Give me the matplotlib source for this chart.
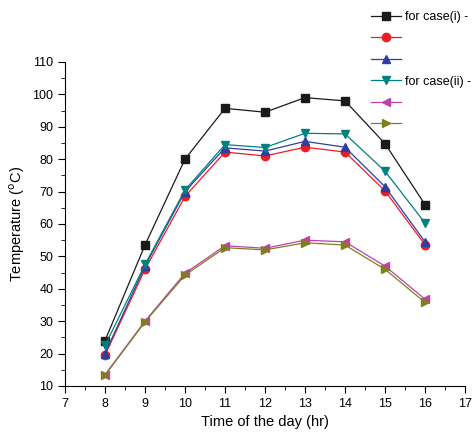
import matplotlib.pyplot as plt
from matplotlib.ticker import MultipleLocator

plt.rcParams['font.family'] = ['Liberation Sans', 'DejaVu Sans']

# Data
hours = [8, 9, 10, 11, 12, 13, 14, 15, 16]
case_i_a = [24.0, 53.5, 80.0, 95.7, 94.5, 99.0, 98.0, 84.8, 66.0]
case_i_b = [19.5, 46.0, 68.5, 82.2, 81.0, 83.7, 82.2, 70.2, 53.6]
case_i_c = [20.0, 47.0, 70.0, 83.5, 82.5, 85.5, 83.7, 71.5, 54.5]
case_ii_a = [22.5, 47.5, 70.5, 84.5, 83.6, 88.0, 87.8, 76.3, 60.3]
case_ii_b = [13.5, 30.0, 44.8, 53.3, 52.5, 55.0, 54.5, 47.0, 36.8]
case_ii_c = [13.3, 29.8, 44.2, 52.7, 52.0, 54.2, 53.5, 46.0, 35.8]

labels = ['for case(i) -', ' ', ' ', 'for case(ii) -', ' ', ' ']
series = [case_i_a, case_i_b, case_i_c, case_ii_a, case_ii_b, case_ii_c]
colors = ['#1a1a1a', '#ee1c25', '#2e3f9e', '#008080', '#c040a8', '#7f7f20']
markers = ['s', 'o', '^', 'v', '<', '>']

fig = plt.figure(figsize=(4.72, 4.32), dpi=100)
ax = fig.add_axes([0.1377, 0.1065, 0.8475, 0.75])

for vals, lab, c, m in zip(series, labels, colors, markers):
    ax.plot(hours, vals, color=c, marker=m, markersize=6, linewidth=0.9,
            label=lab)

ax.set_xlim(7, 17)
ax.set_ylim(10, 110)
ax.xaxis.set_major_locator(MultipleLocator(1))
ax.xaxis.set_minor_locator(MultipleLocator(0.5))
ax.yaxis.set_major_locator(MultipleLocator(10))
ax.yaxis.set_minor_locator(MultipleLocator(5))
ax.spines['top'].set_visible(False)
ax.spines['right'].set_visible(False)
ax.tick_params(which='major', direction='out', length=5, labelsize=9)
ax.tick_params(which='minor', direction='out', length=3)
ax.set_xlabel('Time of the day (hr)', fontsize=10.5)
ax.set_ylabel('Temperature ($^{\\rm o}$C)', fontsize=10.5)

fig.legend(loc='upper left', bbox_to_anchor=(0.775, 0.985), frameon=False,
           fontsize=9, labelspacing=0.75, handlelength=2.4, handletextpad=0.3,
           borderaxespad=0)

fig.savefig('out.png', dpi=100)
